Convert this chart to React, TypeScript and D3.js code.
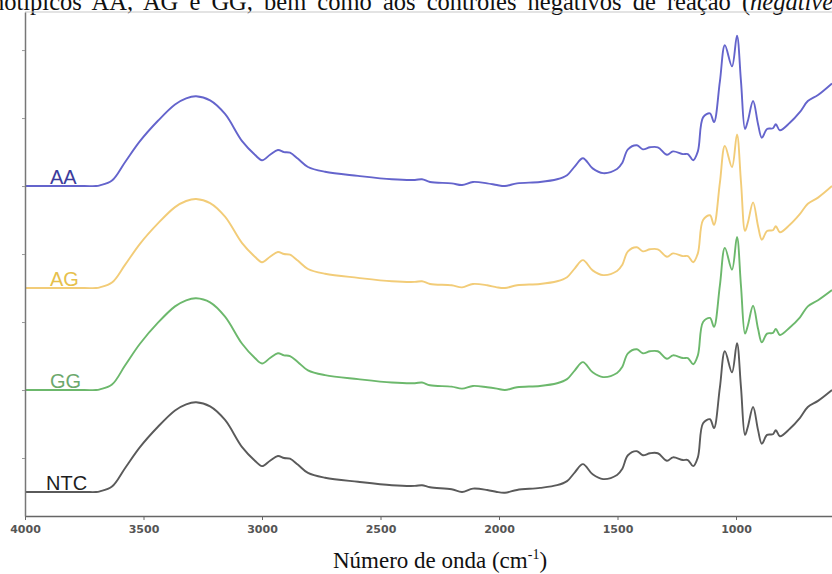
import React, { useEffect, useRef } from 'react'
import * as d3 from 'd3'

// wavenumbers (cm-1), shared by all spectra
const wavenumbers = [4000, 3750, 3700, 3684, 3633, 3578, 3515, 3439, 3367, 3320, 3278, 3219, 3156, 3084, 3030, 3000, 2966, 2933, 2907, 2882, 2848, 2806, 2734, 2595, 2452, 2355, 2325, 2291, 2200, 2156, 2110, 2050, 2009, 1975, 1924, 1827, 1755, 1713, 1680, 1646, 1605, 1561, 1502, 1480, 1456, 1418, 1393, 1363, 1330, 1291, 1266, 1224, 1203, 1181, 1161, 1139, 1110, 1093, 1068, 1047, 1017, 996, 979, 962, 950, 928, 907, 891, 869, 844, 832, 815, 773, 730, 697, 654, 595]

// stacked spectra (arbitrary units, offset)
const aaValues = [50, 50, 50, 50.1, 50.8, 53.5, 56.6, 59.6, 62.0, 62.9, 63.2, 62.6, 60.6, 56.6, 54.6, 53.8, 54.6, 55.3, 55.0, 54.9, 54.0, 52.8, 52.1, 51.5, 51.0, 50.9, 51.0, 50.6, 50.4, 50.15, 50.6, 50.4, 50.15, 50, 50.4, 50.6, 51.0, 51.6, 52.9, 54.1, 52.6, 51.9, 52.5, 53.4, 55.4, 56.0, 55.4, 55.7, 55.7, 54.6, 55.1, 54.7, 54.7, 53.8, 55.1, 60.1, 60.7, 59.4, 65.4, 70.7, 67.6, 72.1, 65.4, 58.4, 59.6, 62.5, 59.1, 57.1, 58.4, 58.5, 59.1, 58.2, 59.3, 60.9, 62.5, 63.4, 65.1]
const agValues = [35, 35, 35, 35.1, 35.8, 38.4, 41.5, 44.5, 46.9, 47.8, 48.1, 47.5, 45.5, 41.6, 39.6, 38.8, 39.6, 40.3, 40.0, 39.9, 39.0, 37.8, 37.1, 36.5, 36.0, 35.9, 36.0, 35.6, 35.4, 35.1, 35.6, 35.4, 35.1, 35.0, 35.4, 35.6, 36.0, 36.6, 37.9, 39.1, 37.6, 36.9, 37.5, 38.4, 40.4, 41.0, 40.4, 40.7, 40.7, 39.6, 40.1, 39.7, 39.7, 38.8, 40.1, 45.0, 45.7, 44.3, 50.5, 55.9, 52.8, 57.6, 50.6, 43.4, 44.6, 47.6, 44.1, 42.1, 43.4, 43.5, 44.1, 43.2, 44.3, 45.9, 47.4, 48.3, 50.0]
const ggValues = [20, 20, 20, 20.1, 20.8, 23.6, 26.8, 29.9, 32.3, 33.2, 33.5, 32.9, 30.8, 26.8, 24.7, 23.9, 24.7, 25.4, 25.1, 25.0, 24.1, 22.9, 22.2, 21.6, 21.1, 21.0, 21.1, 20.7, 20.5, 20.2, 20.6, 20.4, 20.2, 20.0, 20.4, 20.6, 21.0, 21.6, 22.9, 24.1, 22.6, 21.9, 22.5, 23.4, 25.4, 26.0, 25.4, 25.7, 25.7, 24.6, 25.1, 24.7, 24.7, 23.8, 25.1, 30.0, 30.6, 29.3, 35.4, 40.9, 37.7, 42.5, 35.3, 28.3, 29.5, 32.4, 29.0, 27.0, 28.3, 28.4, 29.0, 28.1, 29.2, 30.7, 32.3, 33.2, 34.7]
const ntcValues = [5, 5, 5, 5.1, 5.8, 8.5, 11.6, 14.6, 17.0, 17.9, 18.2, 17.6, 15.6, 11.6, 9.6, 8.8, 9.6, 10.3, 10.0, 9.9, 9.0, 7.8, 7.1, 6.5, 6.0, 5.9, 6.0, 5.7, 5.4, 5.0, 5.5, 5.3, 5.0, 4.9, 5.3, 5.6, 6.0, 6.6, 7.9, 9.1, 7.6, 6.9, 7.5, 8.4, 10.4, 11.0, 10.4, 10.7, 10.7, 9.6, 10.1, 9.7, 9.7, 8.8, 10.1, 15.1, 15.7, 14.4, 20.4, 25.7, 22.6, 26.9, 20.4, 13.4, 14.6, 17.5, 14.1, 12.1, 13.4, 13.5, 14.1, 13.2, 14.3, 15.9, 17.5, 18.4, 20.0]

const seriesNames = ['AA', 'AG', 'GG', 'NTC']
const seriesValues = [aaValues, agValues, ggValues, ntcValues]
const lineColors = ['#6464cc', '#f2cc78', '#6cb86c', '#5a5a5a']
const labelColors = ['#3b3b9c', '#e6c04c', '#6ca86c', '#1e1e1e']

const xTicks = [4000, 3500, 3000, 2500, 2000, 1500, 1000]
const yTicks = [10, 20, 30, 40, 50, 60, 70]

const App = () => {
    const chartRef = useRef(null)

    useEffect(() => {
        const width = 832
        const height = 574
        const left = 25
        const top = 12
        const bottom = 516

        d3.select(chartRef.current).selectAll('*').remove()

        const svg = d3.select(chartRef.current)
            .append('svg')
            .attr('width', width)
            .attr('height', height)
            .style('position', 'absolute')
            .style('left', '0px')
            .style('top', '0px')
            .style('background', '#fff')

        const x = d3.scaleLinear().domain([4000, 595]).range([left, width])
        const y = d3.scaleLinear().domain([1.47, 75.6]).range([bottom, top])

        // caption fragment cut at the top (justified text, so wider word gaps)
        const cap = svg.append('text')
            .attr('x', -8)
            .attr('y', 10)
            .attr('font-family', 'Liberation Serif, Times New Roman, serif')
            .attr('font-size', 24.5)
            .attr('word-spacing', 5)
            .attr('fill', '#111')
        cap.append('tspan').text('notípicos AA, AG e GG, bem como aos controles negativos de reação (')
        cap.append('tspan').attr('font-style', 'italic').text('negative')

        // frame top
        svg.append('line')
            .attr('x1', left).attr('x2', width)
            .attr('y1', top).attr('y2', top)
            .attr('stroke', '#c8c8c8')
            .attr('stroke-width', 1.2)

        const line = d3.line()
            .x((d, i) => x(wavenumbers[i]))
            .y(d => y(d))
            .curve(d3.curveCatmullRom.alpha(0.5))

        seriesValues.forEach((vals, i) => {
            svg.append('path')
                .datum(vals)
                .attr('fill', 'none')
                .attr('stroke', lineColors[i])
                .attr('stroke-width', 1.9)
                .attr('stroke-linejoin', 'round')
                .attr('d', line)

            svg.append('text')
                .attr('x', i === 3 ? 46 : 50)
                .attr('y', y(vals[0]) - 2)
                .attr('font-family', 'Liberation Sans, Arial, sans-serif')
                .attr('font-size', 20)
                .attr('fill', labelColors[i])
                .text(seriesNames[i])
        })

        const xAxis = d3.axisBottom(x)
            .tickValues(xTicks)
            .tickFormat(d3.format('d'))
            .tickSize(4)
            .tickSizeOuter(0)
            .tickPadding(5)

        const gx = svg.append('g')
            .attr('transform', `translate(0, ${bottom})`)
            .call(xAxis)
        gx.select('.domain').attr('stroke', '#666').attr('stroke-width', 1.5)
        gx.selectAll('.tick line').attr('stroke', '#666')
        gx.selectAll('.tick text')
            .attr('font-family', 'DejaVu Sans, sans-serif')
            .attr('font-size', 11)
            .attr('font-weight', 600)
            .attr('fill', '#555')

        const yAxis = d3.axisLeft(y)
            .tickValues(yTicks)
            .tickFormat(() => '')
            .tickSize(3)
            .tickSizeOuter(0)

        const gy = svg.append('g')
            .attr('transform', `translate(${left}, 0)`)
            .call(yAxis)
        gy.select('.domain').attr('stroke', '#777').attr('stroke-width', 1.5)
        gy.selectAll('.tick line').attr('stroke', '#999')

        const title = svg.append('text')
            .attr('x', 440)
            .attr('y', 568)
            .attr('text-anchor', 'middle')
            .attr('font-family', 'Liberation Serif, Times New Roman, serif')
            .attr('font-size', 23)
            .attr('fill', '#111')
        title.append('tspan').text('Número de onda (cm')
        title.append('tspan').attr('font-size', 14).attr('dy', -9).text('-1')
        title.append('tspan').attr('dy', 9).text(')')
    }, [])

    return (
        <div ref={chartRef} />
    )
}

export default App
